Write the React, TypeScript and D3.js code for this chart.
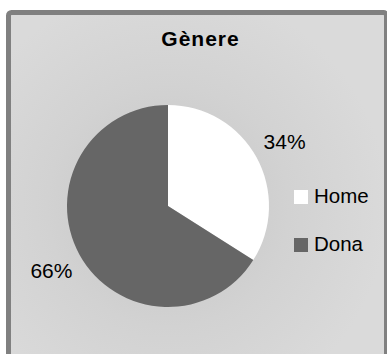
import React from "react";
import * as d3 from "d3";

const categories = ["Home", "Dona"];
const values = [34, 66];
const labels = ["34%", "66%"];
const colors = ["#ffffff", "#666666"];
const title = "Gènere";

const W = 387;
const H = 354;

export default function App() {
  const cx = 168;
  const cy = 206;
  const r = 101;
  const pie = d3.pie<number>().sort(null).value((d) => d)(values);
  const arc = d3.arc<d3.PieArcDatum<number>>().innerRadius(0).outerRadius(r);
  const labelArc = d3
    .arc<d3.PieArcDatum<number>>()
    .innerRadius(133)
    .outerRadius(133);
  const font = "'Liberation Sans', Arial, sans-serif";
  return (
    <svg
      width={W}
      height={H}
      style={{ position: "absolute", left: 0, top: 0, display: "block" }}
    >
      <defs>
        <radialGradient id="bg" cx={cx} cy={cy} r={220} gradientUnits="userSpaceOnUse">
          <stop offset="0" stopColor="#c4c4c4" />
          <stop offset="0.55" stopColor="#d2d2d2" />
          <stop offset="1" stopColor="#dadada" />
        </radialGradient>
      </defs>
      <rect x={0} y={0} width={W} height={H} fill="#ffffff" />
      <rect
        x={8.5}
        y={12.5}
        width={378}
        height={360}
        rx={3}
        fill="url(#bg)"
        stroke="#808080"
        strokeWidth={5}
      />
      <text
        x={200.5}
        y={46}
        textAnchor="middle"
        fontFamily={font}
        fontWeight="bold"
        fontSize={21}
        letterSpacing={1}
        fill="#000"
      >
        {title}
      </text>
      <g transform={`translate(${cx},${cy})`}>
        {pie.map((p, i) => (
          <path key={categories[i]} d={arc(p) || ""} fill={colors[i]} />
        ))}
        {pie.map((p, i) => {
          const [lx, ly] = labelArc.centroid(p);
          return (
            <text
              key={"l" + i}
              x={lx}
              y={ly}
              textAnchor="middle"
              dominantBaseline="central"
              fontFamily={font}
              fontSize={21}
              fill="#000"
            >
              {labels[i]}
            </text>
          );
        })}
      </g>
      {categories.map((c, i) => (
        <g key={c} transform={`translate(294,${190 + i * 48})`}>
          <rect x={0} y={0} width={14} height={14} fill={colors[i]} />
          <text
            x={20}
            y={12.5}
            fontFamily={font}
            fontSize={20.5}
            fill="#000"
          >
            {c}
          </text>
        </g>
      ))}
    </svg>
  );
}
